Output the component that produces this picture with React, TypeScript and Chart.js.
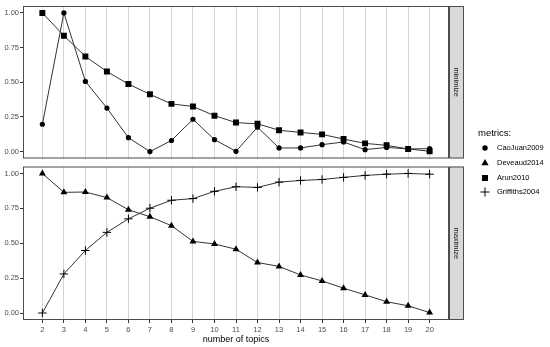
import React, { useEffect, useRef } from "react";
import { Chart, registerables } from "chart.js";

Chart.register(...registerables);

const topics = [2, 3, 4, 5, 6, 7, 8, 9, 10, 11, 12, 13, 14, 15, 16, 17, 18, 19, 20];
const caoJuan2009 = [0.197, 1.0, 0.506, 0.314, 0.1, 0.0, 0.08, 0.233, 0.086, 0.002, 0.176, 0.026, 0.026, 0.05, 0.069, 0.014, 0.03, 0.019, 0.021];
const arun2010 = [1.0, 0.836, 0.686, 0.577, 0.487, 0.413, 0.344, 0.325, 0.259, 0.209, 0.2, 0.154, 0.138, 0.124, 0.09, 0.059, 0.045, 0.019, 0.002];
const deveaud2014 = [1.0, 0.865, 0.867, 0.827, 0.74, 0.69, 0.626, 0.513, 0.495, 0.457, 0.362, 0.334, 0.273, 0.23, 0.178, 0.13, 0.081, 0.052, 0.003];
const griffiths2004 = [0.0, 0.28, 0.448, 0.578, 0.675, 0.751, 0.808, 0.82, 0.872, 0.905, 0.9, 0.938, 0.95, 0.957, 0.972, 0.986, 0.995, 1.0, 0.995];
const yTicks = [0, 0.25, 0.5, 0.75, 1];
const panelLabels = ["minimize", "maximize"];
const xTitle = "number of topics";
const legendTitle = "metrics:";
const legendLabels = ["CaoJuan2009", "Deveaud2014", "Arun2010", "Griffiths2004"];

const FAMILY = '"Liberation Sans", Arial, sans-serif';
const SMALL = 7.5;

const panelPlugin = {
  id: "panelDecor",
  afterDraw(chart: any, _args: any, opts: any) {
    const { ctx, chartArea: a } = chart;
    ctx.save();
    const sw = 15;
    ctx.fillStyle = "#d9d9d9";
    ctx.fillRect(a.right, a.top, sw, a.bottom - a.top);
    ctx.strokeStyle = "#4d4d4d";
    ctx.lineWidth = 1;
    ctx.strokeRect(a.right + 0.5, a.top + 0.5, sw - 1, a.bottom - a.top - 1);
    ctx.strokeRect(a.left + 0.5, a.top + 0.5, a.right - a.left - 1, a.bottom - a.top - 1);
    ctx.translate(a.right + sw / 2, (a.top + a.bottom) / 2);
    ctx.rotate(Math.PI / 2);
    ctx.fillStyle = "#1a1a1a";
    ctx.font = `${SMALL}px ${FAMILY}`;
    ctx.textAlign = "center";
    ctx.textBaseline = "middle";
    ctx.fillText(opts.label || "", 0, 0);
    ctx.restore();
  },
};

function mkData(vals: number[]) {
  return topics.map((x, i) => ({ x, y: vals[i] }));
}

function dataset(vals: number[], style: string, radius: number, bw: number) {
  return {
    data: mkData(vals),
    borderColor: "#333333",
    borderWidth: 1,
    pointStyle: style,
    pointRadius: radius,
    pointBackgroundColor: "#000000",
    pointBorderColor: "#000000",
    pointBorderWidth: bw,
    tension: 0,
    fill: false,
  };
}

function makeConfig(datasets: any[], label: string, isBottom: boolean): any {
  const tickFont = { family: FAMILY, size: SMALL };
  return {
    type: "line",
    data: { datasets },
    options: {
      animation: false,
      responsive: false,
      devicePixelRatio: 1,
      layout: { padding: { left: 0, right: 101, top: isBottom ? 3 : 6, bottom: isBottom ? 0 : 3 } },
      plugins: {
        legend: { display: false },
        tooltip: { enabled: false },
        panelDecor: { label },
      },
      scales: {
        x: {
          type: "linear",
          min: 1.1,
          max: 20.9,
          afterBuildTicks: (s: any) => {
            s.ticks = topics.map((v) => ({ value: v }));
          },
          afterFit: (s: any) => {
            s.height = isBottom ? 27 : 0;
          },
          grid: { color: "#d4d4d4", lineWidth: 1, drawTicks: isBottom, tickLength: 3, tickColor: "#333333" },
          border: { display: false },
          ticks: {
            display: isBottom,
            font: tickFont,
            color: "#4d4d4d",
            padding: 2,
            autoSkip: false,
            maxRotation: 0,
            callback: (v: any) => String(v),
          },
          title: {
            display: isBottom,
            text: xTitle,
            font: { family: FAMILY, size: 9 },
            color: "#000000",
            padding: { top: 0, bottom: 1.8 },
          },
        },
        y: {
          min: -0.05,
          max: 1.05,
          afterBuildTicks: (s: any) => {
            s.ticks = yTicks.map((v) => ({ value: v }));
          },
          afterFit: (s: any) => {
            s.width = 23;
          },
          grid: { drawOnChartArea: false, drawTicks: true, tickLength: 3, tickColor: "#333333" },
          border: { display: false },
          ticks: {
            font: tickFont,
            color: "#4d4d4d",
            padding: 1,
            callback: (v: any) => Number(v).toFixed(2),
          },
        },
      },
    },
    plugins: [panelPlugin],
  };
}

function Sym({ kind }: { kind: string }) {
  let el: any = null;
  if (kind === "circle") el = <circle cx={6} cy={6} r={2.7} fill="#000" />;
  if (kind === "triangle") el = <polygon points="6,2 9.6,8.2 2.4,8.2" fill="#000" />;
  if (kind === "rect") el = <rect x={3} y={3} width={6} height={6} fill="#000" />;
  if (kind === "cross")
    el = (
      <g stroke="#000" strokeWidth={1}>
        <line x1={1.5} y1={6} x2={10.5} y2={6} />
        <line x1={6} y1={1.5} x2={6} y2={10.5} />
      </g>
    );
  return (
    <svg width={12} height={12} style={{ position: "absolute", left: 0, top: 0 }}>
      {el}
    </svg>
  );
}

export default function App() {
  const topRef = useRef<HTMLCanvasElement>(null);
  const botRef = useRef<HTMLCanvasElement>(null);

  useEffect(() => {
    const top = new Chart(
      topRef.current as HTMLCanvasElement,
      makeConfig(
        [dataset(caoJuan2009, "circle", 2.6, 0), dataset(arun2010, "rect", 4.2, 0)],
        panelLabels[0],
        false
      )
    );
    const bot = new Chart(
      botRef.current as HTMLCanvasElement,
      makeConfig(
        [dataset(deveaud2014, "triangle", 4, 0), dataset(griffiths2004, "cross", 4.2, 1)],
        panelLabels[1],
        true
      )
    );
    return () => {
      top.destroy();
      bot.destroy();
    };
  }, []);

  const legendKinds = ["circle", "triangle", "rect", "cross"];
  const legendY = [148, 163, 177.5, 192];

  return (
    <div style={{ position: "fixed", left: 0, top: 0, width: 550, height: 347, background: "#fff", overflow: "hidden" }}>
      <canvas ref={topRef} width={550} height={164} style={{ position: "absolute", left: 0, top: 0, width: 550, height: 164 }} />
      <canvas ref={botRef} width={550} height={186} style={{ position: "absolute", left: 0, top: 161, width: 550, height: 186 }} />
      <div
        style={{
          position: "absolute",
          left: 478,
          top: 127,
          height: 12,
          lineHeight: "12px",
          fontFamily: FAMILY,
          fontSize: 9.5,
          color: "#000",
          whiteSpace: "nowrap",
        }}
      >
        {legendTitle}
      </div>
      {legendLabels.map((lab, i) => (
        <div key={lab} style={{ position: "absolute", left: 479, top: legendY[i] - 6, height: 12, width: 70 }}>
          <Sym kind={legendKinds[i]} />
          <span
            style={{
              position: "absolute",
              left: 18,
              top: 0,
              lineHeight: "12px",
              fontFamily: FAMILY,
              fontSize: SMALL,
              color: "#000",
              whiteSpace: "nowrap",
            }}
          >
            {lab}
          </span>
        </div>
      ))}
    </div>
  );
}
